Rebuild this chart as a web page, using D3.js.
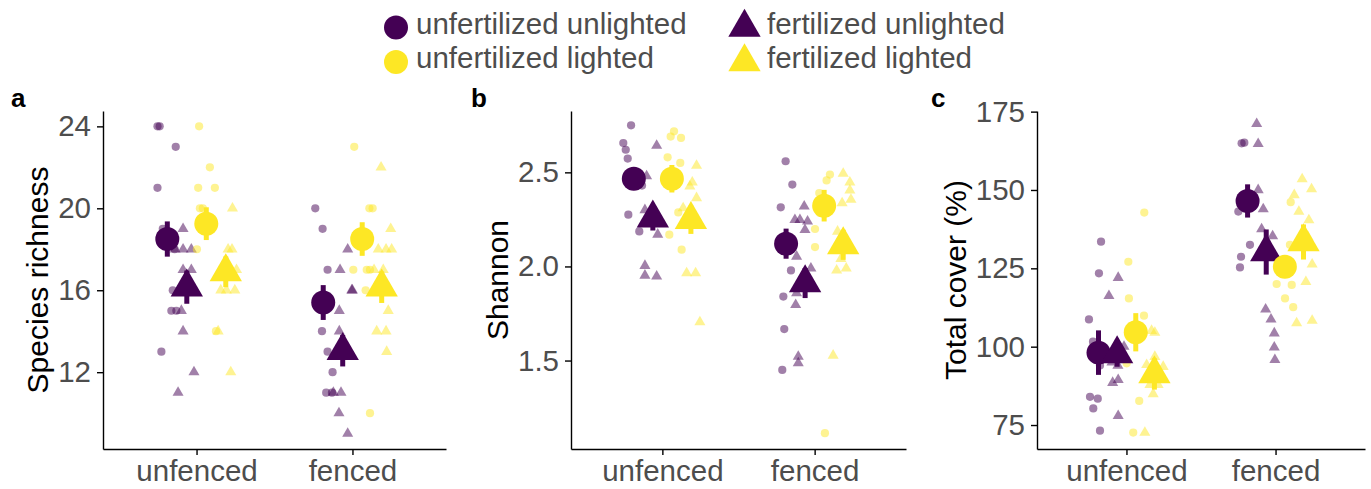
<!DOCTYPE html>
<html lang="en">
<head>
    <meta charset="UTF-8">
    <title>Richness, Shannon and cover by fencing</title>
    <script src="https://d3js.org/d3.v7.min.js"></script>
    <style>
        body { margin: 0; background: #fff; font-family: 'Liberation Sans', Arial, sans-serif; }
        .tick text { fill: #4D4D4D; }
        .domain, .tick line { stroke: #000; stroke-width: 1.4; }
    </style>
</head>
<body>
<svg id="chart" width="1371" height="489"></svg>
<script>
    // --- data ---
    const fences = ["unfenced", "fenced"];
    // dodge order: dark circle, dark triangle, yellow circle, yellow triangle
    const groups = ["unfertilized unlighted", "fertilized unlighted", "unfertilized lighted", "fertilized lighted"];

    // values[fence][group], jitter in category units
    const richnessValues = [
        [[24, 24, 23, 21, 19, 18, 16, 15, 15, 13],
         [19, 18, 18, 18, 17, 17, 15, 14, 12, 11],
         [24, 22, 21, 21, 20, 20, 18, 14],
         [20, 18, 18, 17, 16, 16, 16, 14, 12]],
        [[20, 19, 17, 14, 13, 12, 11, 11],
         [18, 17, 16, 16, 15, 14, 11, 11, 10, 9],
         [23, 20, 20, 17, 17, 17, 16, 10],
         [22, 19, 18, 18, 18, 17, 17, 15, 14, 14, 13]]
    ];
    const richnessJitter = [
        [[-0.063, -0.049, 0.054, -0.063, -0.029, 0.047, 0.035, 0.026, 0.058, -0.038],
         [-0.024, -0.075, -0.024, 0.029, -0.024, 0.029, -0.035, -0.024, 0.046, -0.056],
         [-0.046, 0.023, -0.052, 0.055, -0.041, -0.022, -0.06, 0.062],
         [0.043, 0.015, 0.040, 0.069, -0.032, 0.004, 0.058, -0.049, 0.032]],
        [[-0.051, -0.004, 0.028, -0.008, 0.028, 0.060, 0.019, 0.056],
         [0.032, -0.017, 0.062, 0.058, -0.022, -0.022, -0.060, -0.011, -0.024, 0.032],
         [-0.051, 0.046, 0.067, -0.057, 0.029, 0.050, 0.022, 0.050],
         [-0.004, 0.058, -0.022, 0.028, 0.064, -0.049, 0.010, 0.042, -0.032, 0.028, 0.032]]
    ];
    const richnessMeans = [[18.5, 16.15, 19.25, 16.9], [15.4, 13.05, 18.5, 16.15]];
    const richnessSE = [[0.86, 0.81, 0.8, 0.75], [0.85, 0.77, 0.82, 0.77]];
    const richnessTicks = [12, 16, 20, 24];
    const richnessDomain = [8.25, 24.75];

    const shannonValues = [
        [[2.75, 2.656, 2.62, 2.573, 2.43, 2.275, 2.186],
         [2.642, 2.48, 2.30, 2.17, 2.004, 1.952, 1.947],
         [2.718, 2.69, 2.683, 2.58, 2.55, 2.287, 2.169, 2.089],
         [2.536, 2.447, 2.426, 2.364, 2.31, 1.965, 1.965, 1.704]],
        [[2.559, 2.435, 2.314, 1.979, 1.84, 1.667, 1.45],
         [2.319, 2.248, 2.248, 2.24, 2.195, 2.053, 1.99, 1.858, 1.796, 1.521, 1.486],
         [2.488, 2.457, 2.39, 2.284, 2.199, 2.103, 1.114],
         [2.493, 2.447, 2.404, 2.355, 2.337, 2.186, 2.041, 1.979, 1.99, 1.527]]
    ];
    const shannonJitter = [
        [[-0.018, -0.069, -0.053, -0.040, 0.054, -0.036, 0.036],
         [0.025, -0.041, -0.052, 0.032, -0.052, -0.052, 0.025],
         [0.014, -0.008, 0.060, -0.028, 0.055, 0.042, -0.017, 0.064],
         [0.037, 0.009, -0.007, 0.037, -0.051, -0.028, 0.031, 0.059]],
        [[-0.003, 0.041, -0.035, 0.032, -0.018, -0.012, -0.025],
         [-0.006, -0.067, -0.034, 0.016, -0.001, -0.056, 0.038, -0.056, -0.062, -0.045, -0.045],
         [0.038, 0.016, -0.032, -0.028, -0.060, -0.060, 0.005],
         [0, 0.044, 0.044, 0.051, -0.007, -0.037, -0.015, -0.043, 0.020, -0.066]]
    ];
    const shannonMeans = [[2.466, 2.257, 2.466, 2.248], [2.121, 1.912, 2.323, 2.115]];
    const shannonSE = [[0.04, 0.066, 0.073, 0.075], [0.08, 0.08, 0.084, 0.08]];
    const shannonTicks = [1.5, 2.0, 2.5];
    const shannonDomain = [1.03, 2.826];

    const coverValues = [
        [[133.5, 123.4, 108.7, 101.6, 94, 84, 83.4, 80.3, 73.2],
         [122, 116.2, 100, 95, 94, 89.4, 88.5, 77.9],
         [142.8, 127.1, 115.4, 109.9, 94.7, 82.7, 72.6],
         [105.1, 104.5, 96.8, 94.2, 93.6, 87.8, 87.8, 84.9, 72.6]],
        [[165.1, 164.9, 143.1, 132.5, 128.7, 125.3],
         [171.1, 164.7, 150, 143.9, 137.5, 135.3, 111.9, 108.7, 104.3, 99.8, 95.8],
         [146.1, 132.5, 120, 119.7, 115.4, 112.6],
         [153.5, 150.3, 148.4, 143.1, 140.4, 135, 126.3, 120.7, 108.3, 107.5]]
    ];
    const coverJitter = [
        [[0.017, 0.003, -0.064, -0.037, 0.010, -0.057, -0.005, -0.035, 0.010],
         [0.007, -0.055, 0.046, -0.035, 0.005, 0.007, -0.030, 0.007],
         [0.057, -0.050, -0.046, 0.055, -0.061, 0.023, -0.017],
         [-0.019, 0.003, 0.003, -0.052, 0.059, -0.030, 0.025, -0.008, -0.064]],
        [[-0.022, -0.040, -0.062, 0.016, -0.044, -0.051],
         [-0.064, -0.054, -0.054, -0.020, -0.031, 0.043, -0.004, 0.032, 0.054, 0.054, 0.058],
         [0.039, 0.034, -0.055, 0.046, 0.001, 0.056],
         [-0.009, 0.054, -0.062, -0.031, 0.036, 0.030, 0.058, 0.016, 0.058, -0.046]]
    ];
    const coverMeans = [[98.1, 97.7, 104.6, 91.3], [146.5, 130.2, 125.5, 133.4]];
    const coverSE = [[7.1, 4.1, 6.1, 5], [5.3, 7.2, 3, 5.6]];
    const coverTicks = [75, 100, 125, 150, 175];
    const coverDomain = [67.35, 175.2];

    // --- styling ---
    const dark = "#440154", yellow = "#FDE725";
    const groupColor = i => (i < 2 ? dark : yellow);
    const isTriangle = i => (i % 2 === 1);
    const dodgeWidth = 0.5;
    const fontStack = "'Liberation Sans', Arial, sans-serif";

    // triangle size from circle radius (R pch 17 vs pch 16)
    function symbolPath(tri, r) {
        if (tri) {
            const rt = 1.555 * r;            // centroid to apex
            const size = Math.pow(rt / 2, 2) * 3 * Math.sqrt(3);
            return d3.symbol(d3.symbolTriangle, size)();
        }
        return d3.symbol(d3.symbolCircle, Math.PI * r * r)();
    }

    const svg = d3.select("#chart");
    const yTop = 111, yBot = 449;

    const panels = [
        { label: "a", title: "Species richness", values: richnessValues, jitter: richnessJitter,
          means: richnessMeans, se: richnessSE, ticks: richnessTicks, domain: richnessDomain,
          fmt: d3.format("d"), x0: 103, x1: 446, labelX: 11, titleX: 48 },
        { label: "b", title: "Shannon", values: shannonValues, jitter: shannonJitter,
          means: shannonMeans, se: shannonSE, ticks: shannonTicks, domain: shannonDomain,
          fmt: d3.format(".1f"), x0: 571, x1: 906, labelX: 471, titleX: 508 },
        { label: "c", title: "Total cover (%)", values: coverValues, jitter: coverJitter,
          means: coverMeans, se: coverSE, ticks: coverTicks, domain: coverDomain,
          fmt: d3.format("d"), x0: 1037, x1: 1365, labelX: 931, titleX: 966 }
    ];

    panels.forEach(p => {
        const x = d3.scalePoint().domain(fences).range([p.x0, p.x1]).padding(0.6);
        const step = x.step();
        const y = d3.scaleLinear().domain(p.domain).range([yBot, yTop]);
        const g = svg.append("g");

        // axes
        g.append("g")
            .attr("transform", `translate(${p.x0},0)`)
            .call(d3.axisLeft(y).tickValues(p.ticks).tickFormat(p.fmt).tickSize(6).tickSizeOuter(0).tickPadding(6))
            .call(a => a.selectAll("text").attr("font-size", 29.5).attr("font-family", fontStack));
        g.append("g")
            .attr("transform", `translate(0,${yBot})`)
            .call(d3.axisBottom(x).tickSize(6).tickSizeOuter(0).tickPadding(5))
            .call(a => a.selectAll("text").attr("font-size", 29.5).attr("font-family", fontStack));

        // raw jittered points
        fences.forEach((f, fi) => {
            groups.forEach((gr, gi) => {
                const dodge = (gi - 1.5) * dodgeWidth / groups.length;
                p.values[fi][gi].forEach((v, k) => {
                    const cx = x(f) + (dodge + p.jitter[fi][gi][k]) * step;
                    g.append("path")
                        .attr("d", symbolPath(isTriangle(gi), 4.1))
                        .attr("transform", `translate(${cx},${y(v)})`)
                        .attr("fill", groupColor(gi))
                        .attr("fill-opacity", 0.5);
                });
            });
        });

        // means with standard error
        fences.forEach((f, fi) => {
            groups.forEach((gr, gi) => {
                const dodge = (gi - 1.5) * dodgeWidth / groups.length;
                const cx = x(f) + dodge * step;
                const m = p.means[fi][gi], s = p.se[fi][gi];
                g.append("line")
                    .attr("x1", cx).attr("x2", cx)
                    .attr("y1", y(m - s)).attr("y2", y(m + s))
                    .attr("stroke", groupColor(gi))
                    .attr("stroke-width", 5);
                g.append("path")
                    .attr("d", symbolPath(isTriangle(gi), 12))
                    .attr("transform", `translate(${cx},${y(m)})`)
                    .attr("fill", groupColor(gi));
            });
        });

        // titles
        g.append("text")
            .attr("transform", `translate(${p.titleX},${(yTop + yBot) / 2}) rotate(-90)`)
            .attr("text-anchor", "middle")
            .attr("font-size", 30)
            .attr("fill", "#000")
            .text(p.title);
        g.append("text")
            .attr("x", p.labelX).attr("y", 107)
            .attr("font-size", 26)
            .attr("font-weight", "bold")
            .attr("fill", "#000")
            .text(p.label);
    });

    // --- legend ---
    const legendCols = [396, 744.5];
    const legendRows = [27.5, 62];
    groups.forEach((gr, gi) => {
        const col = gi % 2, row = Math.floor(gi / 2);
        const lg = svg.append("g").attr("transform", `translate(${legendCols[col]},${legendRows[row]})`);
        lg.append("path")
            .attr("d", symbolPath(isTriangle(gi), 12))
            .attr("fill", groupColor(gi));
        lg.append("text")
            .attr("x", col === 0 ? 20 : 22.5)
            .attr("y", 6)
            .attr("font-size", 29.5)
            .attr("fill", "#4D4D4D")
            .text(gr);
    });
</script>
</body>
</html>
